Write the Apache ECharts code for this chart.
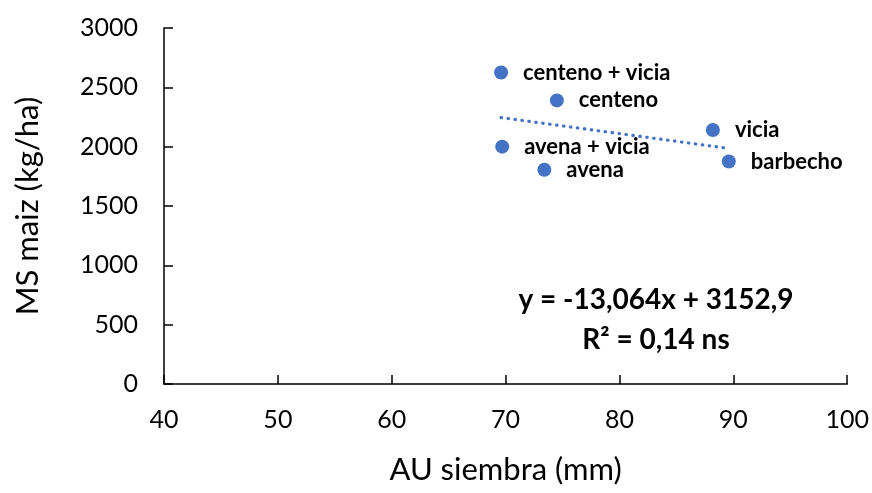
<!DOCTYPE html>
<html><head><meta charset="utf-8">
<script src="https://cdn.jsdelivr.net/npm/echarts@6/dist/echarts.min.js"></script>
<style>html,body{margin:0;padding:0;background:#fff}#c{width:872px;height:493px}</style>
</head><body><div id="c"></div>
<script>
const names = ['centeno + vicia','centeno','vicia','barbecho','avena + vicia','avena'];
const auSiembra = [69.6, 74.5, 88.2, 89.6, 69.7, 73.4];
const msMaiz = [2625, 2390, 2140, 1875, 2000, 1805];
const trendX = [69.6, 89.6];
const trendY = [2245, 1985];
const xTicks = [40, 100, 10];
const yTicks = [0, 3000, 500];
const eqLines = ['y = -13,064x + 3152,9', 'R² = 0,14 ns'];

const FONT = 'Lato, "Open Sans", sans-serif';
const chart = echarts.init(document.getElementById('c'));
chart.setOption({
  animation: false,
  grid: {left: 164, right: 24, top: 28, bottom: 109},
  xAxis: {
    type: 'value', min: xTicks[0], max: xTicks[1], interval: xTicks[2],
    name: 'AU siembra (mm)', nameLocation: 'middle', nameGap: 70,
    nameTextStyle: {fontFamily: FONT, fontSize: 31, color: '#000'},
    axisLine: {show: true, lineStyle: {color: '#000', width: 1.5}},
    axisTick: {show: true, inside: true, length: 9, lineStyle: {color: '#000', width: 1.5}},
    axisLabel: {fontFamily: FONT, fontSize: 25, color: '#000', margin: 23},
    splitLine: {show: false}
  },
  yAxis: {
    type: 'value', min: yTicks[0], max: yTicks[1], interval: yTicks[2],
    name: 'MS maiz (kg/ha)', nameLocation: 'middle', nameGap: 121,
    nameTextStyle: {fontFamily: FONT, fontSize: 31, color: '#000'},
    axisLine: {show: true, lineStyle: {color: '#000', width: 1.5}},
    axisTick: {show: true, inside: true, length: 9, lineStyle: {color: '#000', width: 1.5}},
    axisLabel: {fontFamily: FONT, fontSize: 25, color: '#000', margin: 26, formatter: v => String(v)},
    splitLine: {show: false}
  },
  series: [
    {
      type: 'line', data: trendX.map((x, i) => [x, trendY[i]]),
      symbol: 'none', lineStyle: {color: '#4472C4', width: 3.2, type: [0.5, 6.5], cap: 'round'},
      z: 1
    },
    {
      type: 'scatter', symbol: 'circle', symbolSize: 14,
      itemStyle: {color: '#4472C4', opacity: 1},
      data: auSiembra.map((x, i) => ({value: [x, msMaiz[i]], name: names[i]})),
      label: {show: true, position: 'right', distance: 15, formatter: p => p.name,
        fontFamily: FONT, fontWeight: 'bold', fontSize: 22, color: '#000'},
      z: 2
    }
  ],
  graphic: [
    {type: 'text', x: 656, y: 300, style: {text: eqLines[0], fontFamily: FONT, fontWeight: 'bold', fontSize: 28, fill: '#000', textAlign: 'center', textVerticalAlign: 'middle'}},
    {type: 'text', x: 656, y: 340, style: {text: eqLines[1], fontFamily: FONT, fontWeight: 'bold', fontSize: 28, fill: '#000', textAlign: 'center', textVerticalAlign: 'middle'}}
  ]
});
</script></body></html>
